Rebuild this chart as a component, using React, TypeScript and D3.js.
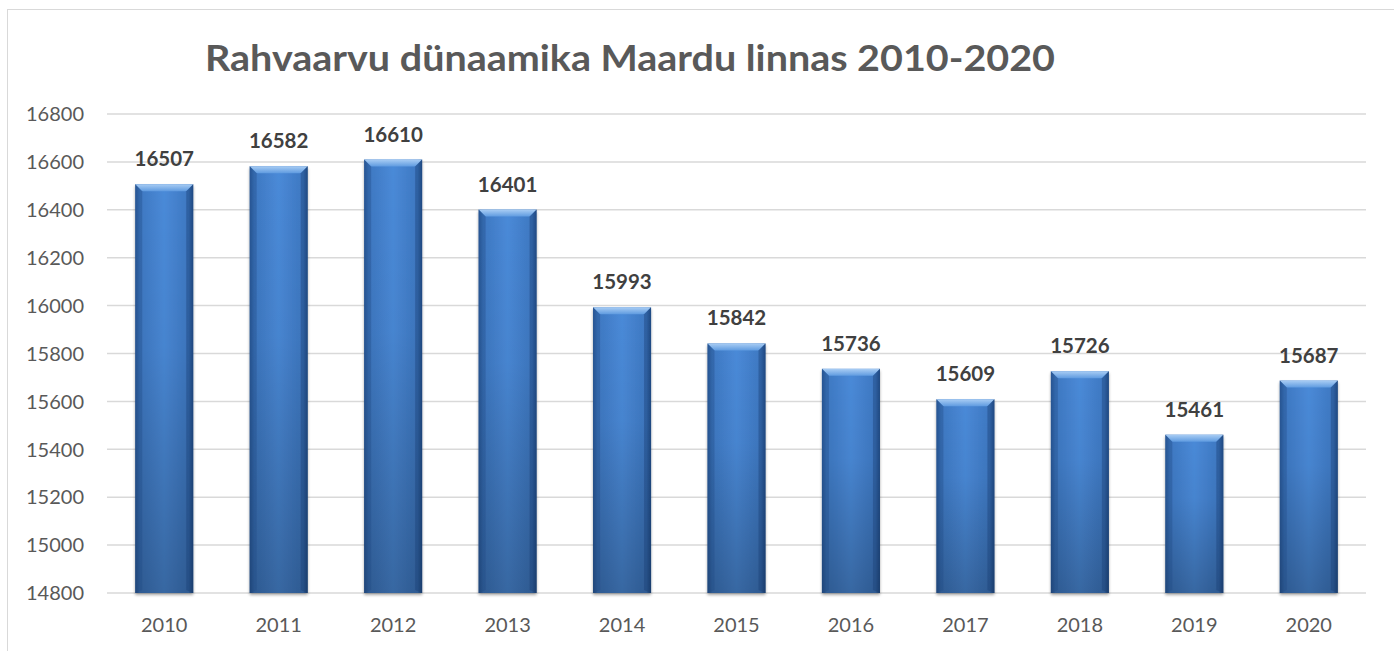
import React from "react";
import * as d3 from "d3";

const years = ["2010","2011","2012","2013","2014","2015","2016","2017","2018","2019","2020"];
const population = [16507,16582,16610,16401,15993,15842,15736,15609,15726,15461,15687];
const yTicks = [14800,15000,15200,15400,15600,15800,16000,16200,16400,16600,16800];
const title = "Rahvaarvu dünaamika Maardu linnas 2010-2020";

export default function App() {
  const W = 1394, H = 651;
  const left = 107, right = 1366, top = 114, bottom = 593;
  const x = d3.scaleBand<string>().domain(years).range([left, right]).paddingInner(0.493).paddingOuter(0.2465);
  const y = d3.scaleLinear().domain([14800, 16800]).range([bottom, top]);
  const bw = x.bandwidth();
  const font = "Lato, 'Open Sans', 'Liberation Sans', sans-serif";
  return (
    <svg width={W} height={H} style={{ position: "absolute", left: 0, top: 0 }}>
      <defs>
        <linearGradient id="hgrad" x1="0" x2="1" y1="0" y2="0">
          <stop offset="0" stopColor="#2a5a9a" />
          <stop offset="0.08" stopColor="#3e78c2" />
          <stop offset="0.5" stopColor="#4a8ad8" />
          <stop offset="0.92" stopColor="#3e78c2" />
          <stop offset="1" stopColor="#24508c" />
        </linearGradient>
        <linearGradient id="vshade" x1="0" x2="0" y1="0" y2="1">
          <stop offset="0" stopColor="#000" stopOpacity="0" />
          <stop offset="0.4" stopColor="#000" stopOpacity="0.04" />
          <stop offset="1" stopColor="#000" stopOpacity="0.25" />
        </linearGradient>
        <linearGradient id="bevel" x1="0" x2="0" y1="0" y2="1">
          <stop offset="0" stopColor="#a9cdf4" />
          <stop offset="1" stopColor="#5f9be0" />
        </linearGradient>
        <filter id="shadow" x="-20%" y="-5%" width="140%" height="115%">
          <feGaussianBlur in="SourceAlpha" stdDeviation="1.5" />
          <feOffset dx="0" dy="2" result="b" />
          <feComponentTransfer><feFuncA type="linear" slope="0.35" /></feComponentTransfer>
          <feMerge><feMergeNode /><feMergeNode in="SourceGraphic" /></feMerge>
        </filter>
      </defs>
      <rect x={0} y={0} width={W} height={H} fill="#fff" />
      <rect x={7.5} y={9.5} width={W + 10} height={H + 10} fill="none" stroke="#d9d9d9" strokeWidth={1} />
      <text x={630} y={71} textAnchor="middle" fontFamily={font} fontWeight="bold" fontSize={36} fill="#595959"
        textLength={850} lengthAdjust="spacingAndGlyphs">{title}</text>
      {yTicks.map(t => (
        <g key={t}>
          <line x1={left} x2={right} y1={y(t)} y2={y(t)} stroke="#d9d9d9" strokeWidth={1.5} />
          <text x={84} y={y(t)} dy="0.36em" textAnchor="end" fontFamily={font} fontSize={20} fill="#595959">{t}</text>
        </g>
      ))}
      {years.map((yr, i) => {
        const x0 = x(yr)!;
        const yt = y(population[i]);
        const h = bottom - yt;
        const bv = 7;
        return (
          <g key={yr}>
            <g filter="url(#shadow)">
              <rect x={x0} y={yt} width={bw} height={h} fill="url(#hgrad)" />
            </g>
            <rect x={x0} y={yt} width={bw} height={h} fill="url(#vshade)" />
            <path d={`M${x0},${yt} L${x0 + bw},${yt} L${x0 + bw - bv},${yt + bv} L${x0 + bv},${yt + bv} Z`} fill="url(#bevel)" />
            <path d={`M${x0},${yt} L${x0 + bv},${yt + bv} L${x0 + bv},${bottom - 3} L${x0},${bottom} Z`} fill="#1f4a85" opacity={0.35} />
            <path d={`M${x0 + bw},${yt} L${x0 + bw - bv},${yt + bv} L${x0 + bw - bv},${bottom - 3} L${x0 + bw},${bottom} Z`} fill="#1a3f73" opacity={0.4} />
            <text x={x0 + bw / 2} y={yt - 18} textAnchor="middle" fontFamily={font} fontWeight="bold" fontSize={20.5} fill="#404040">{population[i]}</text>
            <text x={x0 + bw / 2} y={625} dy="0.36em" textAnchor="middle" fontFamily={font} fontSize={20} fill="#595959">{yr}</text>
          </g>
        );
      })}
    </svg>
  );
}
